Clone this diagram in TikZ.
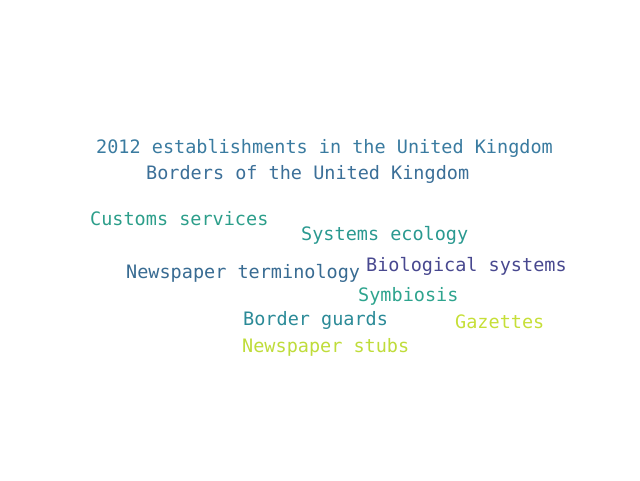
\documentclass[tikz,border=0pt]{standalone}
\usepackage{fontspec}
\setmonofont{DejaVu Sans Mono}
\definecolor{cA}{HTML}{3A7BA0}
\definecolor{cB}{HTML}{3B6F98}
\definecolor{cC}{HTML}{2C9E8A}
\definecolor{cD}{HTML}{2A9990}
\definecolor{cE}{HTML}{386B92}
\definecolor{cF}{HTML}{48488F}
\definecolor{cG}{HTML}{2EA48E}
\definecolor{cH}{HTML}{2B8A97}
\definecolor{cI}{HTML}{C6DF38}
\definecolor{cJ}{HTML}{BFDC3A}
\tikzset{word/.style={anchor=base west, inner sep=0pt, font=\ttfamily\fontsize{18.5}{20}\selectfont}}
\begin{document}
\begin{tikzpicture}[x=1pt,y=1pt]
\useasboundingbox (0,0) rectangle (640,480);
\node[word, text=cA] (w1) at (96,326) {2012 establishments in the United Kingdom};
\node[word, text=cB] (w2) at (146,300) {Borders of the United Kingdom};
\node[word, text=cC] (w3) at (90,254) {Customs services};
\node[word, text=cD] (w4) at (301,240) {Systems ecology};
\node[word, text=cE] (w5) at (126,202) {Newspaper terminology};
\node[word, text=cF] (w6) at (366,209) {Biological systems};
\node[word, text=cG] (w7) at (358,179) {Symbiosis};
\node[word, text=cH] (w8) at (243,155) {Border guards};
\node[word, text=cI] (w9) at (455,152) {Gazettes};
\node[word, text=cJ] (w10) at (242,128) {Newspaper stubs};
\end{tikzpicture}
\end{document}
